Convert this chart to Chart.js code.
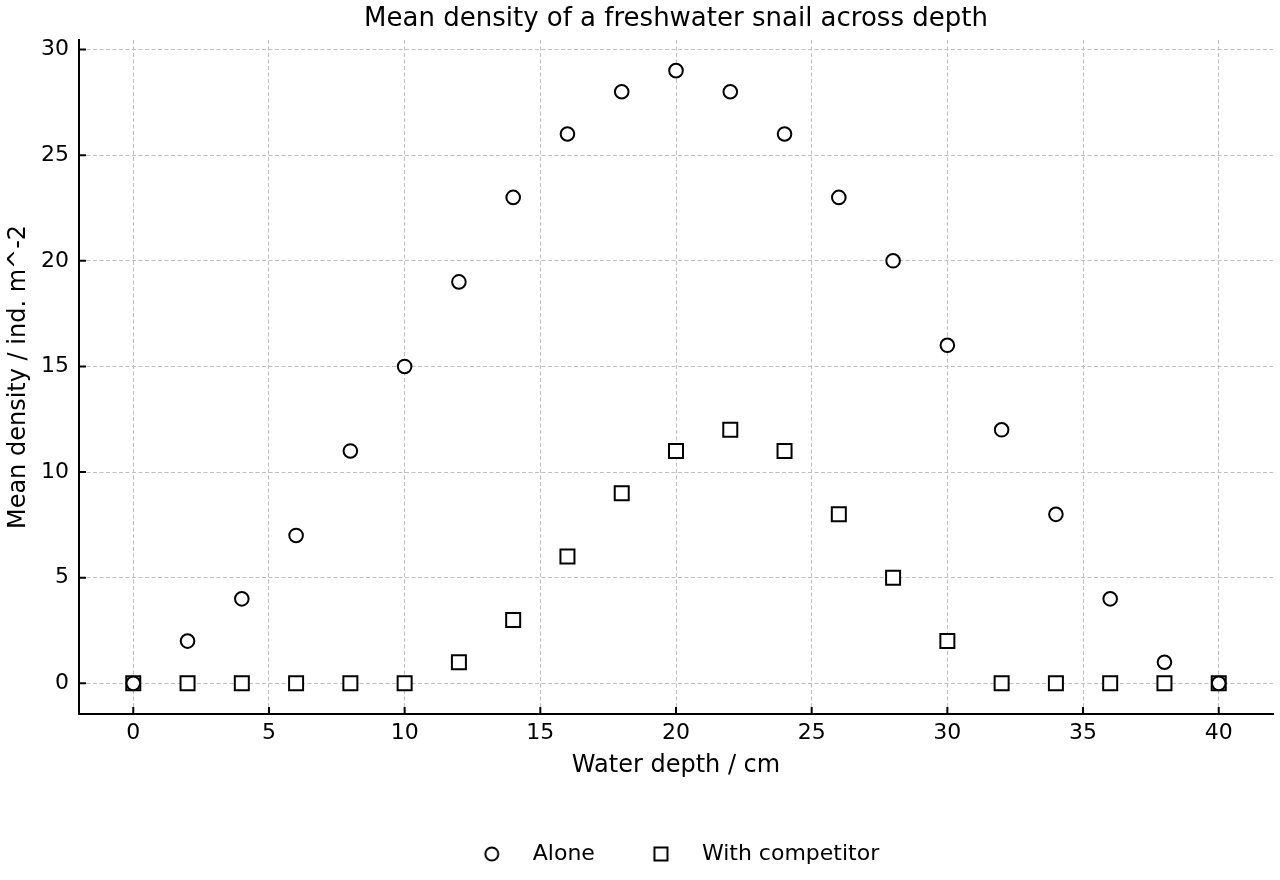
<!DOCTYPE html>
<html>
<head>
<meta charset="utf-8">
<script src="https://cdn.jsdelivr.net/npm/chart.js@4.4.0/dist/chart.umd.min.js"></script>
<style>
html, body { margin: 0; padding: 0; background: #fff; }
canvas { display: block; }
</style>
</head>
<body>
<canvas id="snailChart" width="1280" height="880"></canvas>
<script>
//-------------
//- DATA
//-------------
var depthCm = [0, 2, 4, 6, 8, 10, 12, 14, 16, 18, 20, 22, 24, 26, 28, 30, 32, 34, 36, 38, 40];
var densityAlone = [0, 2, 4, 7, 11, 15, 19, 23, 26, 28, 29, 28, 26, 23, 20, 16, 12, 8, 4, 1, 0];
var densityCompetitor = [0, 0, 0, 0, 0, 0, 1, 3, 6, 9, 11, 12, 11, 8, 5, 2, 0, 0, 0, 0, 0];
var seriesLabels = ["Alone", "With competitor"];
var chartTitle = "Mean density of a freshwater snail across depth";
var xAxisTitle = "Water depth / cm";
var yAxisTitle = "Mean density / ind. m^-2";

var FONT = "'DejaVu Sans', sans-serif";
var LEGEND_MARK_SHIFT = 13;   // marker offset inside the legend box
var LEGEND_SHIFT = 21;        // move the legend row to match the reference

Chart.defaults.color = "#000";
Chart.defaults.font.family = FONT;

function toPoints(xs, ys) {
    var pts = [];
    for (var i = 0; i < xs.length; i++) {
        pts.push({ x: xs[i], y: ys[i] });
    }
    return pts;
}

// small canvas glyphs used as legend markers
function makeLegendMarker(shape) {
    var c = document.createElement("canvas");
    c.width = 60;
    c.height = 24;
    var g = c.getContext("2d");
    var cx = 30 + LEGEND_MARK_SHIFT, cy = 12;
    g.lineWidth = 2;
    g.strokeStyle = "#000";
    g.fillStyle = "#fff";
    g.beginPath();
    if (shape === "circle") {
        g.arc(cx, cy, 6.5, 0, Math.PI * 2);
    } else {
        g.rect(cx - 6.5, cy - 6.5, 13, 13);
    }
    g.fill();
    g.stroke();
    return c;
}
var legendMarkers = [makeLegendMarker("circle"), makeLegendMarker("rect")];

// ticks pointing into the plot, like the reference
var inwardTicks = {
    id: "inwardTicks",
    afterDraw: function (chart) {
        var ctx = chart.ctx, area = chart.chartArea;
        var xs = chart.scales.x, ys = chart.scales.y;
        ctx.save();
        ctx.strokeStyle = "#000";
        ctx.lineWidth = 2;
        ctx.beginPath();
        xs.ticks.forEach(function (t) {
            var px = xs.getPixelForValue(t.value);
            ctx.moveTo(px, area.bottom);
            ctx.lineTo(px, area.bottom - 7);
        });
        ys.ticks.forEach(function (t) {
            var py = ys.getPixelForValue(t.value);
            ctx.moveTo(area.left, py);
            ctx.lineTo(area.left + 7, py);
        });
        ctx.stroke();
        ctx.restore();
    }
};

var legendShift = {
    id: "legendShift",
    afterLayout: function (chart) {
        chart.legend.left += LEGEND_SHIFT;
        chart.legend.right += LEGEND_SHIFT;
    }
};

var ctx = document.getElementById("snailChart").getContext("2d");
var chart = new Chart(ctx, {
    type: "scatter",
    data: {
        datasets: [
            {
                label: seriesLabels[0],
                data: toPoints(depthCm, densityAlone),
                pointStyle: "circle",
                pointRadius: 6.8,
                borderWidth: 2,
                borderColor: "#000",
                backgroundColor: "#fff"
            },
            {
                label: seriesLabels[1],
                data: toPoints(depthCm, densityCompetitor),
                pointStyle: "rect",
                pointRadius: 9.9,
                borderWidth: 2,
                borderColor: "#000",
                backgroundColor: "#fff"
            }
        ]
    },
    options: {
        responsive: false,
        animation: false,
        events: [],
        layout: { autoPadding: false, padding: { left: 0, right: 7, top: 0, bottom: 5 } },
        plugins: {
            title: {
                display: true,
                text: chartTitle,
                fullSize: false,
                font: { size: 26, weight: "normal" },
                padding: { top: 3.4, bottom: 5.4 }
            },
            legend: {
                position: "bottom",
                labels: {
                    font: { size: 22 },
                    usePointStyle: true,
                    pointStyleWidth: 86,
                    padding: 10,
                    generateLabels: function (chart) {
                        var items = Chart.defaults.plugins.legend.labels.generateLabels(chart);
                        items.forEach(function (item) {
                            item.pointStyle = legendMarkers[item.datasetIndex];
                        });
                        return items;
                    }
                }
            },
            tooltip: { enabled: false }
        },
        scales: {
            x: {
                type: "linear",
                position: "bottom",
                min: -2,
                max: 42,
                afterFit: function (scale) {
                    scale.height = 119;
                    scale.paddingLeft = 0;
                    scale.paddingRight = 0;
                },
                ticks: { stepSize: 5, includeBounds: false, padding: 6, font: { size: 22 } },
                grid: { color: "#bfbfbf", lineWidth: 1, drawTicks: false },
                border: { color: "#000", width: 2, dash: [4, 2.5] },
                title: {
                    display: true,
                    text: xAxisTitle,
                    font: { size: 24 },
                    padding: { top: 4, bottom: 52.6 }
                }
            },
            y: {
                type: "linear",
                min: -1.45,
                max: 30.45,
                afterFit: function (scale) { scale.width = 79; },
                ticks: { stepSize: 5, includeBounds: false, padding: 10, font: { size: 22 } },
                grid: { color: "#bfbfbf", lineWidth: 1, drawTicks: false },
                border: { color: "#000", width: 2, dash: [4, 2.5] },
                title: {
                    display: true,
                    text: yAxisTitle,
                    font: { size: 24 },
                    padding: { top: 4.6, bottom: 0 }
                }
            }
        }
    },
    plugins: [inwardTicks, legendShift]
});
</script>
</body>
</html>
